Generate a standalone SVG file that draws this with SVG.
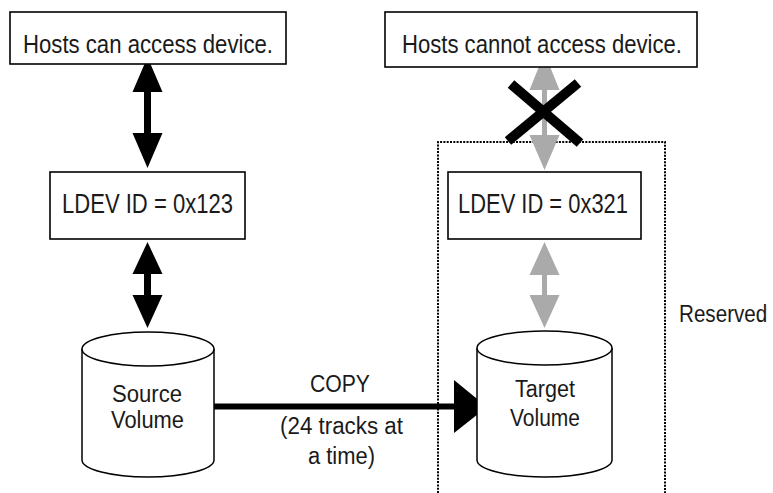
<svg xmlns="http://www.w3.org/2000/svg" width="773" height="493" viewBox="0 0 773 493">
<style>
.box{fill:#fff;stroke:#000;stroke-width:1.6}
.cyl{fill:#fff;stroke:#000;stroke-width:1.5}
text{font-family:"Liberation Sans",Arial,sans-serif;fill:#1a1a1a;text-anchor:middle}
.blk{fill:#000}
.gry{fill:#aaaaaa}
</style>
<rect width="773" height="493" fill="#fff"/>
<g id="reserved-area">
<path d="M438,493 V142 H665 V493" fill="none" stroke="#000" stroke-width="2" stroke-dasharray="2 1.3"/>
<text transform="translate(679,322) scale(0.86,1)" font-size="24" style="text-anchor:start">Reserved</text>
</g>
<g id="connectors">
<polygon class="blk" points="147.5,57 162.5,92 151,92 151,133 162.5,133 147.5,168 132.5,133 144,133 144,92 132.5,92"/>
<polygon class="blk" points="147.5,242 162.5,274 151,274 151,295 162.5,295 147.5,328 132.5,295 144,295 144,274 132.5,274"/>
<polygon class="gry" points="544.5,53 559.5,90 547,90 547,135 559.5,135 544.5,170 529.5,135 542,135 542,90 529.5,90"/>
<polygon class="gry" points="544.5,242 559.5,275 547,275 547,295 559.5,295 544.5,328 529.5,295 542,295 542,275 529.5,275"/>
<g id="block-x" stroke="#000" stroke-width="10">
<line x1="511" y1="84" x2="580" y2="143"/>
<line x1="578" y1="83" x2="508" y2="141"/>
</g>
<g id="copy-arrow">
<rect class="blk" x="199" y="403.5" width="257" height="6"/>
<polygon class="blk" points="454,380 487,407 454,433"/>
<text x="340" y="392" font-size="23" textLength="60" lengthAdjust="spacingAndGlyphs">COPY</text>
<text x="341.5" y="434" font-size="23" textLength="123" lengthAdjust="spacingAndGlyphs">(24 tracks at</text>
<text x="341.5" y="464" font-size="23" textLength="67" lengthAdjust="spacingAndGlyphs">a time)</text>
</g>
</g>
<g id="hosts-can">
<rect class="box" x="10" y="12" width="276" height="52"/>
<text x="148" y="53" font-size="25" textLength="250" lengthAdjust="spacingAndGlyphs">Hosts can access device.</text>
</g>
<g id="hosts-cannot">
<rect class="box" x="385" y="12" width="312" height="55"/>
<text x="542" y="53" font-size="25" textLength="280" lengthAdjust="spacingAndGlyphs">Hosts cannot access device.</text>
</g>
<g id="ldev-123">
<rect class="box" x="50" y="172" width="195" height="67"/>
<text x="147.5" y="213" font-size="27" textLength="171" lengthAdjust="spacingAndGlyphs">LDEV ID = 0x123</text>
</g>
<g id="ldev-321">
<rect class="box" x="448" y="172" width="193" height="67"/>
<text x="543" y="213" font-size="27" textLength="170" lengthAdjust="spacingAndGlyphs">LDEV ID = 0x321</text>
</g>
<g id="source-volume">
<path class="cyl" d="M82,349 V460 A66,17 0 0 0 214,460 V349"/>
<ellipse class="cyl" cx="148" cy="349" rx="66" ry="17"/>
<text x="147" y="402" font-size="23" textLength="70" lengthAdjust="spacingAndGlyphs">Source</text>
<text x="147.5" y="428" font-size="23" textLength="73" lengthAdjust="spacingAndGlyphs">Volume</text>
</g>
<g id="target-volume">
<path class="cyl" d="M477,348 V460 A67.5,17 0 0 0 612,460 V348"/>
<ellipse class="cyl" cx="544.5" cy="348" rx="67.5" ry="17"/>
<text x="545" y="397" font-size="23" textLength="60" lengthAdjust="spacingAndGlyphs">Target</text>
<text x="545" y="426" font-size="23" textLength="70" lengthAdjust="spacingAndGlyphs">Volume</text>
</g>
</svg>
